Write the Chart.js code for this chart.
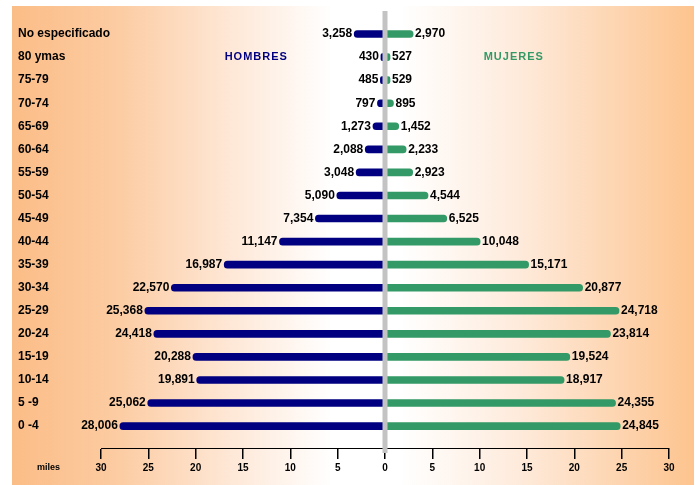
<!DOCTYPE html>
<html lang="es">
<head>
<meta charset="utf-8">
<title>Población por grupos de edad y sexo</title>
<script src="https://cdn.jsdelivr.net/npm/chart.js@4.4.1/dist/chart.umd.min.js"></script>
<style>
  html, body { margin: 0; padding: 0; background: #ffffff; overflow: hidden; }
  canvas { display: block; }
</style>
</head>
<body>
<canvas id="piramide" width="700" height="485"></canvas>
<script>
// Grupos de edad, de arriba hacia abajo
const gruposEdad = ['No especificado', '80 ymas', '75-79', '70-74', '65-69', '60-64', '55-59',
  '50-54', '45-49', '40-44', '35-39', '30-34', '25-29', '20-24', '15-19', '10-14', '5 -9', '0 -4'];

// Población por sexo (personas)
const hombres = [3258, 430, 485, 797, 1273, 2088, 3048, 5090, 7354, 11147, 16987,
  22570, 25368, 24418, 20288, 19891, 25062, 28006];
const mujeres = [2970, 527, 529, 895, 1452, 2233, 2923, 4544, 6525, 10048, 15171,
  20877, 24718, 23814, 19524, 18917, 24355, 24845];

// Marcas del eje horizontal, en miles
const marcasMiles = [-30, -25, -20, -15, -10, -5, 0, 5, 10, 15, 20, 25, 30];
const unidadEje = 'miles';

const NAVY = '#000080';
const VERDE = '#339966';
const fuente = "'Liberation Sans', Arial, sans-serif";
const fuenteEstrecha = "'Liberation Sans Narrow', 'Arial Narrow', 'Liberation Sans', sans-serif";

const formato = n => n.toLocaleString('en-US');

// Fondo degradado melocotón-blanco-melocotón
const fondo = {
  id: 'fondo',
  beforeDraw(chart) {
    const ctx = chart.ctx;
    ctx.save();
    ctx.fillStyle = '#ffffff';
    ctx.fillRect(0, 0, chart.width, chart.height);
    const x0 = 12, x1 = 694, y0 = 6, y1 = chart.height;
    const g = ctx.createLinearGradient(x0, 0, x1, 0);
    g.addColorStop(0, '#fbbd87');
    g.addColorStop(0.15, '#fccba1');
    g.addColorStop(0.33, '#fee9d9');
    g.addColorStop(0.47, '#ffffff');
    g.addColorStop(0.57, '#ffffff');
    g.addColorStop(0.74, '#feebdc');
    g.addColorStop(0.9, '#fdd3ad');
    g.addColorStop(1, '#fdc48e');
    ctx.fillStyle = g;
    ctx.fillRect(x0, y0, x1 - x0, y1 - y0);
    ctx.restore();
  }
};

// Cifras junto al extremo de cada barra, nombres de los sexos y unidad del eje
const rotulos = {
  id: 'rotulos',
  afterDatasetsDraw(chart, args, opts) {
    const ctx = chart.ctx;
    const xs = chart.scales.x, ys = chart.scales.y;
    ctx.save();
    ctx.font = 'bold 12px ' + fuente;
    ctx.fillStyle = '#000000';
    ctx.textBaseline = 'middle';
    chart.data.datasets.forEach((ds, d) => {
      const meta = chart.getDatasetMeta(d);
      const valores = d === 0 ? hombres : mujeres;
      meta.data.forEach((bar, i) => {
        if (d === 0) {
          ctx.textAlign = 'right';
          ctx.fillText(formato(valores[i]), bar.x - 2, bar.y);
        } else {
          ctx.textAlign = 'left';
          ctx.fillText(formato(valores[i]), bar.x + 2, bar.y);
        }
      });
    });

    // Nombres de los sexos
    ctx.font = 'bold 11px ' + fuente;
    ctx.letterSpacing = '1px';
    ctx.textAlign = 'center';
    const yFila = ys.getPixelForValue(opts.filaSexo);
    chart.data.datasets.forEach((ds, d) => {
      ctx.fillStyle = ds.backgroundColor;
      const xv = (d === 0 ? -1 : 1) * opts.posicionSexo;
      ctx.fillText(ds.label, xs.getPixelForValue(xv), yFila);
    });

    // Unidad del eje
    ctx.letterSpacing = '0px';
    ctx.font = 'bold 9px ' + fuente;
    ctx.fillStyle = '#000000';
    ctx.textAlign = 'left';
    ctx.fillText(unidadEje, 37, xs.top + 19.5);
    ctx.restore();
  }
};

// Línea gris central sobre el cero
const lineaCentral = {
  id: 'lineaCentral',
  afterDraw(chart) {
    const ctx = chart.ctx;
    const x = chart.scales.x.getPixelForValue(0);
    ctx.save();
    ctx.fillStyle = '#c3c3c3';
    ctx.fillRect(x - 2.5, 11, 5, chart.scales.x.top + 5 - 11);
    ctx.restore();
  }
};

const datos = {
  datasets: [
    {
      label: 'HOMBRES',
      data: hombres.map((v, i) => ({ x: -v, y: i })),
      backgroundColor: NAVY,
      barThickness: 7,
      borderRadius: 3.5,
      borderSkipped: 'start'
    },
    {
      label: 'MUJERES',
      data: mujeres.map((v, i) => ({ x: v, y: i })),
      backgroundColor: VERDE,
      barThickness: 7,
      borderRadius: 3.5,
      borderSkipped: 'start'
    }
  ]
};

new Chart(document.getElementById('piramide'), {
  type: 'bar',
  data: datos,
  plugins: [fondo, rotulos, lineaCentral],
  options: {
    indexAxis: 'y',
    responsive: false,
    animation: false,
    layout: { padding: { top: 22.5, right: 31, bottom: 0, left: 0 } },
    plugins: {
      legend: { display: false },
      tooltip: { enabled: false },
      rotulos: { posicionSexo: 13600, filaSexo: 1 }
    },
    scales: {
      x: {
        type: 'linear',
        stacked: true,
        bounds: 'data',
        min: marcasMiles[0] * 1000,
        max: marcasMiles[marcasMiles.length - 1] * 1000,
        afterBuildTicks: s => { s.ticks = marcasMiles.map(v => ({ value: v * 1000 })); },
        afterFit: s => { s.height = 37; },
        grid: {
          display: true,
          drawOnChartArea: false,
          drawTicks: true,
          tickLength: 11,
          color: '#000000',
          lineWidth: 1.5
        },
        border: { display: true, color: '#000000', width: 1 },
        ticks: {
          autoSkip: false,
          maxRotation: 0,
          padding: 3,
          color: '#000000',
          font: { family: fuenteEstrecha, size: 10, weight: 'bold' },
          callback: v => String(Math.abs(v) / 1000)
        }
      },
      y: {
        type: 'linear',
        stacked: true,
        reverse: true,
        offset: false,
        bounds: 'data',
        min: -0.5,
        max: 17.95,
        afterBuildTicks: s => { s.ticks = gruposEdad.map((_, i) => ({ value: i })); },
        afterFit: s => { s.width = 101; },
        grid: { display: false, offset: false },
        border: { display: false },
        ticks: {
          autoSkip: false,
          mirror: true,
          crossAlign: 'near',
          padding: -83,
          color: '#000000',
          font: { family: fuente, size: 12, weight: 'bold' },
          callback: v => gruposEdad[v] ?? ''
        }
      }
    }
  }
});
</script>
</body>
</html>
